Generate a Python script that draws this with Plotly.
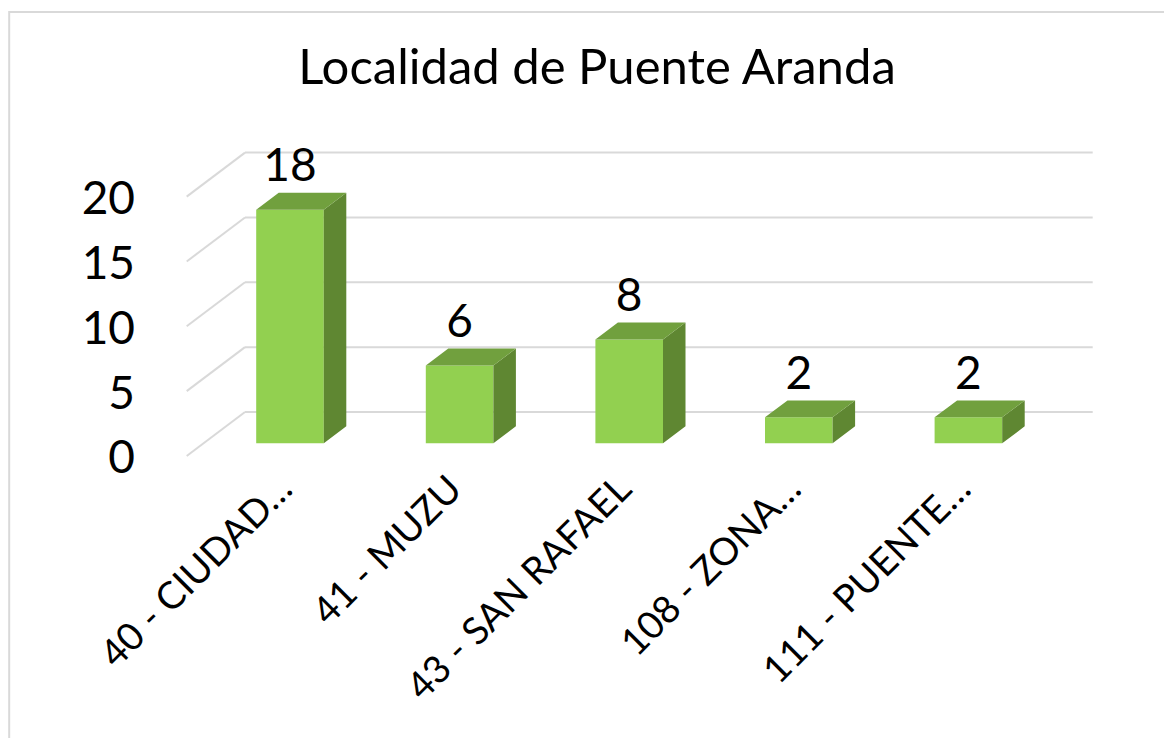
import plotly.graph_objects as go

# ---- data ----
categories = ["40 - CIUDAD…", "41 - MUZU", "43 - SAN RAFAEL", "108 - ZONA…", "111 - PUENTE…"]
values = [18, 6, 8, 2, 2]
y_ticks = [0, 5, 10, 15, 20]
title_text = "Localidad de Puente Aranda"

# ---- geometry / style constants (reference pixels) ----
OFF = 8                                    # page body margin
W, H = 1172 - OFF, 738 - OFF
PL, PR, PT, PB = 150, 1110, 120, 470      # plot area in reference px
PX_X = 169.6                               # px per category
PX_Y = 12.97                               # px per value unit
X0_PX, Y0_PX = 290, 443.3                  # pixel of category 0 / value 0 (bar front plane)
x_range = [(PL - X0_PX) / PX_X, (PR - X0_PX) / PX_X]
y_range = [-(PB - Y0_PX) / PX_Y, (Y0_PX - PT) / PX_Y]

DDX = 58.3 / PX_X        # full depth offset (x, in category units)
DDY = 44.0 / PX_Y        # full depth offset (y, in value units)
T_BAR_FRONT = 0.289
T_BAR_BACK = 0.675
BW = 67.6 / PX_X
WALL_LEFT_FRONT = (186.7 - X0_PX) / PX_X
WALL_RIGHT_BACK = (1092.7 - X0_PX) / PX_X

FRONT = "#92D050"
TOP = "#71A03E"
SIDE = "#5F8732"
GRID = "#D9D9D9"
FONT = "Lato"

fig = go.Figure()

# gridlines (back wall + left side wall), behind the bars
shapes = []
back_dy = (1 - T_BAR_FRONT) * DDY
front_dy = -T_BAR_FRONT * DDY
for v in y_ticks:
    shapes.append(dict(type="line", xref="x", yref="y", layer="below",
                       x0=WALL_LEFT_FRONT + DDX, x1=WALL_RIGHT_BACK,
                       y0=v + back_dy, y1=v + back_dy,
                       line=dict(color=GRID, width=2)))
    shapes.append(dict(type="line", xref="x", yref="y", layer="below",
                       x0=WALL_LEFT_FRONT, x1=WALL_LEFT_FRONT + DDX,
                       y0=v + front_dy, y1=v + back_dy,
                       line=dict(color=GRID, width=2)))
# chart border
shapes.append(dict(type="rect", xref="paper", yref="paper",
                   x0=(9.2 - PL) / (PR - PL), x1=1.3,
                   y0=-1.5, y1=1 + (PT - 12) / (PB - PT),
                   line=dict(color=GRID, width=2), layer="below"))

# front faces
idx = list(range(len(categories)))
fig.add_trace(go.Bar(x=idx, y=values, width=BW,
                     marker=dict(color=FRONT, line=dict(width=0)),
                     hoverinfo="skip", showlegend=False))

bdx = (T_BAR_BACK - T_BAR_FRONT) * DDX
bdy = (T_BAR_BACK - T_BAR_FRONT) * DDY
sx, sy, tx, ty = [], [], [], []
for i, v in zip(idx, values):
    r = i + BW / 2
    l = i - BW / 2
    sx += [r, r + bdx, r + bdx, r, r, None]
    sy += [0, bdy, v + bdy, v, 0, None]
    tx += [l, r, r + bdx, l + bdx, l, None]
    ty += [v, v, v + bdy, v + bdy, v, None]
fig.add_trace(go.Scatter(x=sx, y=sy, fill="toself", fillcolor=SIDE, mode="lines",
                         line=dict(width=0, color=SIDE), hoverinfo="skip", showlegend=False))
fig.add_trace(go.Scatter(x=tx, y=ty, fill="toself", fillcolor=TOP, mode="lines",
                         line=dict(width=0, color=TOP), hoverinfo="skip", showlegend=False))

# data labels
fig.add_trace(go.Scatter(x=idx, y=[v + bdy for v in values], mode="text",
                         text=[str(v) for v in values], textposition="top center",
                         textfont=dict(family=FONT, size=46, color="black"),
                         hoverinfo="skip", showlegend=False, cliponaxis=False))

fig.update_layout(
    width=W, height=H,
    margin=dict(l=PL - OFF, r=1172 - PR, t=PT - OFF, b=738 - PB, autoexpand=False),
    paper_bgcolor="white", plot_bgcolor="rgba(0,0,0,0)",
    shapes=shapes,
    title=dict(text=title_text, x=(597 - OFF) / W, xanchor="center",
               y=1 - (67 - OFF) / H, yanchor="middle", yref="container",
               font=dict(family=FONT, size=49, color="black")),
    xaxis=dict(range=x_range, tickvals=idx, ticktext=categories, tickangle=-45,
               showgrid=False, zeroline=False, showline=False, ticks="",
               ticklabelshift=-9, ticklabelstandoff=-12,
               tickfont=dict(family=FONT, size=38, color="black")),
    yaxis=dict(range=y_range, tickvals=y_ticks, showgrid=False, zeroline=False,
               showline=False, ticks="", ticklabelshift=14, ticklabelstandoff=14,
               tickfont=dict(family=FONT, size=46, color="black")),
    showlegend=False,
)

fig.write_html("out.html")
